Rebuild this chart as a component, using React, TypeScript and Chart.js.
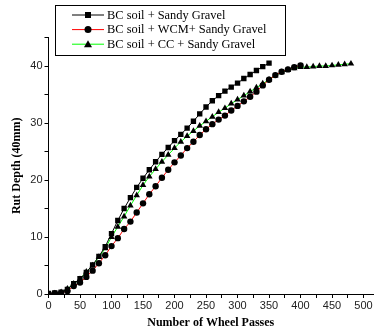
import React, { useEffect, useRef } from "react";
import { Chart, registerables } from "chart.js";

Chart.register(...registerables);

const seriesNames = [
  "BC soil + Sandy Gravel",
  "BC soil + WCM+ Sandy Gravel",
  "BC soil + CC + Sandy Gravel",
];
const lineColors = ["#000000", "#ff0000", "#00ff00"];
const pointStyles = ["rect", "circle", "triangle"];

const passesA = [0,10,20,30,40,50,60,70,80,90,100,110,120,130,140,150,160,170,180,190,200,210,220,230,240,250,260,270,280,290,300,310,320,330,340,350];
const rutA = [0.1,0.2,0.3,0.8,1.8,2.7,3.8,5.1,6.6,8.3,10.6,12.9,15.0,16.9,18.7,20.3,21.8,23.2,24.5,25.7,26.9,28.0,29.1,30.3,31.6,32.8,33.9,34.8,35.6,36.3,37.0,37.8,38.5,39.2,39.9,40.5];

const passesB = [0,10,20,30,40,50,60,70,80,90,100,110,120,130,140,150,160,170,180,190,200,210,220,230,240,250,260,270,280,290,300,310,320,330,340,350,360,370,380,390,400];
const rutB = [0.0,0.1,0.2,0.5,1.4,2.0,3.0,4.1,5.4,6.8,8.4,9.8,11.4,12.7,14.3,15.9,17.5,18.9,20.4,21.8,23.1,24.3,25.6,26.7,27.9,28.9,29.8,30.6,31.3,32.2,33.0,33.8,34.6,35.5,36.6,37.6,38.4,39.0,39.4,39.8,40.1];

const passesC = [0,10,20,30,40,50,60,70,80,90,100,110,120,130,140,150,160,170,180,190,200,210,220,230,240,250,260,270,280,290,300,310,320,330,340,350,360,370,380,390,400,410,420,430,440,450,460,470,480];
const rutC = [0.0,0.1,0.3,0.9,1.8,2.6,3.9,5.0,6.5,8.0,10.0,11.8,13.6,15.5,17.3,19.1,20.6,21.9,23.2,24.4,25.6,26.7,27.7,28.6,29.5,30.3,31.1,31.9,32.6,33.4,34.1,34.8,35.5,36.2,36.9,37.6,38.3,38.9,39.3,39.6,39.8,39.8,39.9,40.0,40.0,40.1,40.2,40.3,40.4];

const xTickValues = [0,25,50,75,100,125,150,175,200,225,250,275,300,325,350,375,400,425,450,475,500];
const xTickLabels = ["0","50","100","150","200","250","300","350","400","450","500"];
const yTickValues = [0,5,10,15,20,25,30,35,40,45];
const yTickLabels = ["0","10","20","30","40"];

const legendPlugin = {
  id: "boxLegend",
  afterDraw(chart: any) {
    const ctx = chart.ctx;
    ctx.save();
    const bx = 55.5, by = 5.5, bw = 230, bh = 50;
    ctx.strokeStyle = "#000";
    ctx.lineWidth = 1;
    ctx.strokeRect(bx, by, bw, bh);
    ctx.font = "12.4px 'Liberation Serif', serif";
    ctx.textBaseline = "middle";
    ctx.fillStyle = "#000";
    seriesNames.forEach((name, i) => {
      const yy = 15 + i * 14.6;
      ctx.strokeStyle = lineColors[i];
      ctx.beginPath();
      ctx.moveTo(72, yy);
      ctx.lineTo(104, yy);
      ctx.stroke();
      ctx.fillStyle = "#000";
      ctx.beginPath();
      const cx = 88;
      if (pointStyles[i] === "rect") {
        ctx.fillRect(cx - 3, yy - 3, 6, 6);
      } else if (pointStyles[i] === "circle") {
        ctx.arc(cx, yy, 3.5, 0, Math.PI * 2);
        ctx.fill();
      } else {
        ctx.moveTo(cx, yy - 4);
        ctx.lineTo(cx + 4, yy + 3);
        ctx.lineTo(cx - 4, yy + 3);
        ctx.closePath();
        ctx.fill();
      }
      ctx.fillText(name, 107, yy + 0.5);
    });
    ctx.restore();
  },
};

export default function App() {
  const ref = useRef<HTMLCanvasElement>(null);
  useEffect(() => {
    const mk = (xs: number[], ys: number[]) => xs.map((x, i) => ({ x, y: ys[i] }));
    const datas = [mk(passesA, rutA), mk(passesB, rutB), mk(passesC, rutC)];
    const radii = [3.8, 3.2, 3.8];
    const chart = new Chart(ref.current!, {
      type: "line",
      data: {
        datasets: datas.map((d, i) => ({
          label: seriesNames[i],
          data: d,
          borderColor: lineColors[i],
          borderWidth: 1,
          pointStyle: pointStyles[i] as any,
          pointRadius: radii[i],
          pointBackgroundColor: "#000",
          pointBorderColor: "#000",
          pointBorderWidth: 0,
          tension: 0,
        })),
      },
      options: {
        animation: false,
        responsive: false,
        events: [],
        layout: { padding: { left: 0, right: 0, top: 37.5, bottom: 0 } },
        plugins: { legend: { display: false }, tooltip: { enabled: false } },
        scales: {
          x: {
            type: "linear",
            min: 0,
            max: 515,
            afterBuildTicks: (s: any) => {
              s.ticks = xTickValues.map((v) => ({ value: v }));
            },
            afterFit: (s: any) => { s.height = 39; },
            ticks: {
              autoSkip: false,
              maxRotation: 0,
              padding: 1,
              color: "#222",
              font: { family: "'Liberation Sans', Arial, sans-serif", size: 11 },
              callback: (v: any) => {
                const s = String(v);
                return xTickLabels.includes(s) ? s : "";
              },
            },
            grid: { display: true, drawOnChartArea: false, drawTicks: true, tickLength: 4, tickColor: "#000" },
            border: { display: true, color: "#000", width: 1 },
            title: {
              display: true,
              text: "Number of Wheel Passes",
              color: "#000",
              padding: { top: 0, bottom: 3 },
              font: { family: "'Liberation Serif', 'Times New Roman', serif", size: 12, weight: "bold" },
            },
          },
          y: {
            type: "linear",
            min: 0,
            max: 45,
            afterBuildTicks: (s: any) => {
              s.ticks = yTickValues.map((v) => ({ value: v }));
            },
            afterFit: (s: any) => { s.width = 48.5; },
            ticks: {
              autoSkip: false,
              padding: 2,
              color: "#222",
              font: { family: "'Liberation Sans', Arial, sans-serif", size: 11 },
              callback: (v: any) => {
                const s = String(v);
                return yTickLabels.includes(s) ? s : "";
              },
            },
            grid: { display: true, drawOnChartArea: false, drawTicks: true, tickLength: 4, tickColor: "#000" },
            border: { display: true, color: "#000", width: 1 },
            title: {
              display: true,
              text: "Rut Depth (40mm)",
              color: "#000",
              padding: { top: 10, bottom: 4 },
              font: { family: "'Liberation Serif', 'Times New Roman', serif", size: 12, weight: "bold" },
            },
          },
        },
      },
      plugins: [legendPlugin],
    });
    return () => chart.destroy();
  }, []);
  return (
    <div style={{ position: "absolute", left: 0, top: 0, width: 377, height: 333, background: "#fff" }}>
      <canvas ref={ref} width={377} height={333} style={{ display: "block" }} />
    </div>
  );
}
